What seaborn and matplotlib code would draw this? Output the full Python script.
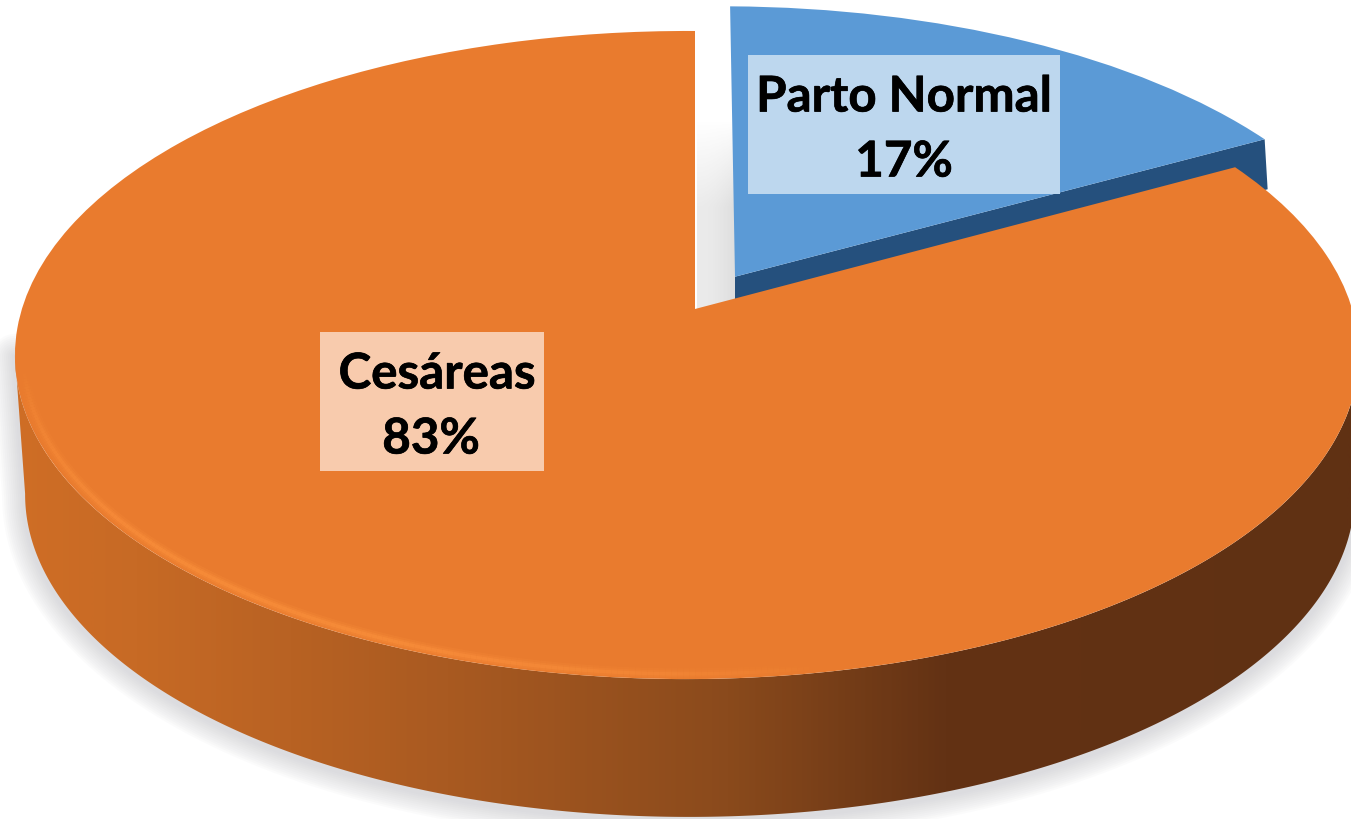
import numpy as np
import seaborn as sns
import matplotlib.pyplot as plt
import matplotlib.patheffects as pe
from matplotlib.patches import Polygon, Rectangle
from matplotlib.collections import LineCollection
from matplotlib.colors import LinearSegmentedColormap
from matplotlib.transforms import Transform

labels = ['Parto Normal', 'Cesáreas']
values = [17, 83]
explode = [0.12, 0]
colors = ['#5B9AD6', '#E97B2E']
box_colors = ['#BDD7EE', '#F8CBAD']

sns.set_theme(style="white")
plt.rcParams['font.family'] = ['Lato', 'DejaVu Sans']


def project(x, y, cx=695, cy=310, sx=665, sy=317.5):
    w = 1 + 0.142 * y + 0.012 * x
    return cx + sx * x / w, cy - sy * y / w


class Tilt(Transform):
    # pie circle -> tilted disc in pixel coords
    input_dims = output_dims = 2

    def transform_non_affine(self, values):
        xy = np.asarray(values, dtype=float)
        X, Y = project(xy[:, 0], xy[:, 1])
        return np.column_stack([X, Y])


def front_half(x, y):
    # from the right extreme to the left extreme of a ring
    i0, i1 = np.argmax(x), np.argmin(x)
    return x[i0:i1 + 1], y[i0:i1 + 1]


fig = plt.figure(figsize=(13.51, 8.2), dpi=100)
ax = fig.add_axes([0, 0, 1, 1])
wedges, _ = ax.pie(values, colors=colors, explode=explode, startangle=90,
                   counterclock=False)
ax.set_aspect('auto')
ax.set_xlim(0, 1351)
ax.set_ylim(820, 0)
ax.axis('off')

tilt = Tilt() + ax.transData
for w in wedges:
    w.set_transform(tilt)
    w.set_linewidth(0)
wedges[0].set_zorder(5)
wedges[1].set_zorder(7)

# outlines of the disc, top face and bottom face
t = np.radians(np.linspace(-10, 190, 500)) * -1
top_x, top_y = front_half(*project(np.cos(t), np.sin(t)))
bot_x, bot_y = front_half(*project(np.cos(t), np.sin(t), cx=698, cy=449, sx=658, sy=316.5))

# soft shadow under the disc
ring_x = np.r_[top_x[0], bot_x, top_x[-1]]
ring_y = np.r_[top_y[0], bot_y, top_y[-1]]
for lw in range(46, 2, -4):
    ax.plot(ring_x, ring_y + 2, color='#b9b9c0', lw=lw * 0.72, alpha=0.05, zorder=1,
            solid_capstyle='round')

# side wall with a left to right shading
wall = Polygon(np.column_stack([np.r_[top_x, bot_x[::-1]], np.r_[top_y, bot_y[::-1]]]),
               closed=True, fc='none', ec='none', zorder=2)
ax.add_patch(wall)
wall_cmap = LinearSegmentedColormap.from_list('wall', [
    (0.0, '#D06E26'), (0.10, '#C76A25'), (0.33, '#A95A21'),
    (0.54, '#8A4A1C'), (0.70, '#633214'), (1.0, '#603113')])
grad = ax.imshow(np.linspace(0, 1, 512)[None, :], cmap=wall_cmap, aspect='auto',
                 extent=(0, 1351, 820, 300), zorder=3)
grad.set_clip_path(wall)
ax.set_xlim(0, 1351)
ax.set_ylim(820, 0)

# dark edge of the pulled out slice
a0 = np.radians(90 - 360 * values[0] / sum(values))
mid = np.radians(90 - 180 * values[0] / sum(values))
ex, ey = explode[0] * np.cos(mid), explode[0] * np.sin(mid)
apex = project(ex, ey)
tip = project(ex + np.cos(a0), ey + np.sin(a0))
ax.add_patch(Polygon([apex, tip, (tip[0] + 3, tip[1] + 50), (apex[0], apex[1] + 50)],
                     closed=True, fc='#25507D', ec='none', zorder=4))

# grey shade in the gap between the slices
shade = np.zeros((64, 32, 4))
shade[..., :3] = 0.72
fade = np.clip(np.linspace(0, 1, 64) * 2.2, 0, 1)[:, None]
shade[..., 3] = fade * (0.28 + 0.18 * np.linspace(0, 1, 32) ** 2)[None, :]
ax.imshow(shade, aspect='auto', extent=(apex[0] - 38, apex[0], 312, 120), zorder=4)
ax.set_xlim(0, 1351)
ax.set_ylim(820, 0)

# light bevel along the front rim of the top face
s = np.radians(np.linspace(190, 280, 200))
rx, ry = project(0.988 * np.cos(s), 0.988 * np.sin(s))
pts = np.column_stack([rx, ry]).reshape(-1, 1, 2)
segs = np.concatenate([pts[:-1], pts[1:]], axis=1)
rim_alpha = np.sin(np.linspace(0, np.pi, 199)) ** 0.7
for width, strength in [(8, 0.2), (5, 0.3), (2.5, 0.5)]:
    rim_rgba = np.tile(np.array([0.99, 0.57, 0.24, 1.0]), (199, 1))
    rim_rgba[:, 3] = rim_alpha * strength
    ax.add_collection(LineCollection(segs, colors=rim_rgba, linewidths=width, zorder=8))

# labels
boxes = [(748, 56, 312, 139), (320, 333, 224, 139)]
name_xy = [(904, 98), (437, 375)]
pct_xy = [(904, 163), (431, 440)]
heavy = [pe.withStroke(linewidth=0.5, foreground='black')]
for lab, val, col, box, nxy, pxy in zip(labels, values, box_colors, boxes, name_xy, pct_xy):
    ax.add_patch(Rectangle(box[:2], box[2], box[3], fc=col, ec='none', zorder=9))
    ax.text(nxy[0], nxy[1], lab, ha='center', va='center', fontsize=35.5,
            fontweight='bold', color='black', zorder=10, path_effects=heavy)
    ax.text(pxy[0], pxy[1], f'{val}%', ha='center', va='center', fontsize=35.5,
            fontweight='bold', color='black', zorder=10, path_effects=heavy)

plt.savefig('out.png', dpi=100)
